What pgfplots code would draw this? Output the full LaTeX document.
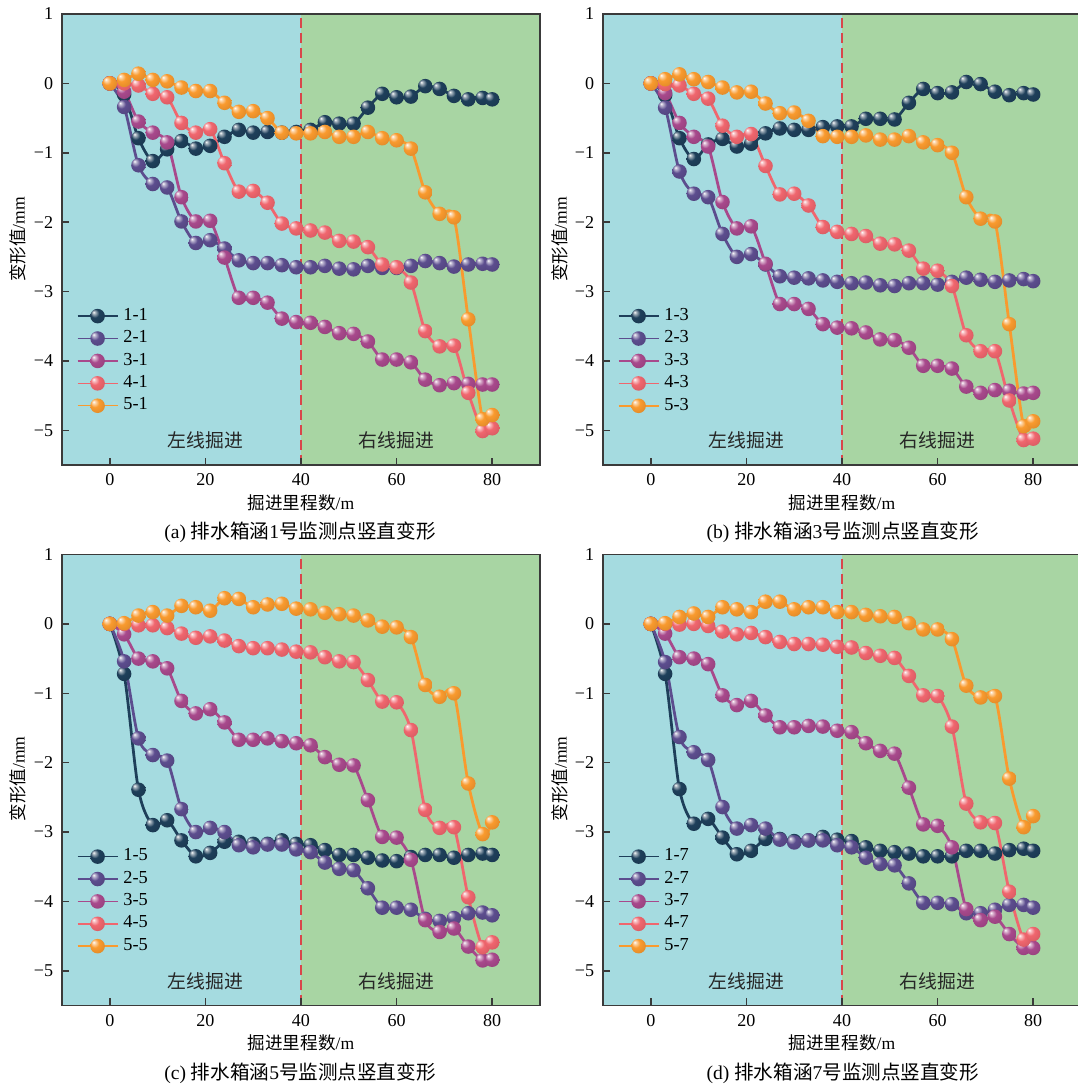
\documentclass[border=0pt]{standalone}
\usepackage{fontspec}
\setmainfont{Liberation Serif}
\newfontfamily\cjk{Noto Sans CJK SC}
\usepackage{pgfplots}
\usepackage{pgfplotstable}
\pgfplotsset{compat=1.18}
\usetikzlibrary{plotmarks}

\definecolor{bgleft}{HTML}{A5DBE0}
\definecolor{bgright}{HTML}{A8D5A3}
\definecolor{sA}{HTML}{1E3F5A}
\definecolor{sB}{HTML}{5C4D8E}
\definecolor{sC}{HTML}{A8498C}
\definecolor{sD}{HTML}{F0666E}
\definecolor{sE}{HTML}{F99A2E}
\definecolor{divline}{HTML}{D9464A}
\definecolor{frame}{HTML}{3A3A3A}

% shaded ball marks, one per series colour
\newcommand\mkball[1]{%
  \pgfdeclareradialshading{sh#1}{\pgfpoint{-14bp}{14bp}}{color(0bp)=(white);
    color(5bp)=(#1!40!white); color(15bp)=(#1); color(36bp)=(#1!88!black);
    color(50bp)=(#1!72!black)}%
  \pgfdeclareplotmark{ball#1}{\pgfpathcircle{\pgfpointorigin}{\pgfplotmarksize}%
    \pgfshadepath{sh#1}{0}\pgfusepath{}}}
\mkball{sA}\mkball{sB}\mkball{sC}\mkball{sD}\mkball{sE}

% columns: x, then series 1..5 of each panel
\pgfplotstableread{
x a b c d e
0 0 0 0 0 0
3 -0.16 -0.34 -0.12 0.00 0.05
6 -0.79 -1.18 -0.55 -0.03 0.14
9 -1.12 -1.45 -0.71 -0.15 0.05
12 -0.95 -1.50 -0.85 -0.20 0.03
15 -0.83 -1.99 -1.64 -0.57 -0.06
18 -0.94 -2.30 -1.99 -0.71 -0.11
21 -0.90 -2.26 -1.98 -0.66 -0.11
24 -0.77 -2.38 -2.51 -1.15 -0.28
27 -0.67 -2.55 -3.09 -1.56 -0.41
30 -0.71 -2.59 -3.09 -1.55 -0.40
33 -0.70 -2.59 -3.16 -1.72 -0.50
36 -0.71 -2.62 -3.39 -2.02 -0.71
39 -0.70 -2.65 -3.44 -2.09 -0.72
42 -0.67 -2.65 -3.45 -2.12 -0.72
45 -0.56 -2.63 -3.51 -2.15 -0.70
48 -0.58 -2.67 -3.60 -2.27 -0.77
51 -0.58 -2.68 -3.61 -2.28 -0.77
54 -0.35 -2.63 -3.72 -2.36 -0.70
57 -0.15 -2.66 -3.98 -2.61 -0.79
60 -0.20 -2.66 -3.98 -2.65 -0.82
63 -0.19 -2.63 -4.02 -2.87 -0.94
66 -0.04 -2.56 -4.27 -3.57 -1.57
69 -0.08 -2.59 -4.35 -3.79 -1.88
72 -0.18 -2.64 -4.32 -3.78 -1.93
75 -0.23 -2.61 -4.33 -4.46 -3.40
78 -0.21 -2.60 -4.34 -5.01 -4.84
80 -0.23 -2.61 -4.34 -4.97 -4.78
}\tabA

\pgfplotstableread{
x a b c d e
0 0 0 0 0 0
3 -0.17 -0.35 -0.14 -0.01 0.06
6 -0.79 -1.27 -0.57 -0.03 0.13
9 -1.09 -1.59 -0.77 -0.15 0.06
12 -0.88 -1.64 -0.91 -0.22 0.02
15 -0.80 -2.17 -1.71 -0.61 -0.06
18 -0.91 -2.50 -2.09 -0.77 -0.13
21 -0.87 -2.46 -2.06 -0.73 -0.12
24 -0.72 -2.61 -2.60 -1.19 -0.29
27 -0.65 -2.78 -3.18 -1.60 -0.43
30 -0.67 -2.80 -3.18 -1.59 -0.42
33 -0.67 -2.81 -3.25 -1.76 -0.54
36 -0.63 -2.84 -3.47 -2.07 -0.76
39 -0.62 -2.86 -3.52 -2.14 -0.77
42 -0.62 -2.88 -3.53 -2.17 -0.77
45 -0.51 -2.87 -3.59 -2.20 -0.75
48 -0.51 -2.91 -3.69 -2.31 -0.81
51 -0.52 -2.92 -3.70 -2.32 -0.81
54 -0.28 -2.88 -3.81 -2.41 -0.76
57 -0.08 -2.88 -4.07 -2.67 -0.85
60 -0.14 -2.90 -4.07 -2.70 -0.89
63 -0.13 -2.86 -4.11 -2.92 -1.00
66 0.02 -2.80 -4.37 -3.63 -1.64
69 -0.01 -2.83 -4.46 -3.86 -1.95
72 -0.12 -2.86 -4.42 -3.86 -1.99
75 -0.17 -2.84 -4.43 -4.57 -3.47
78 -0.14 -2.82 -4.47 -5.14 -4.94
80 -0.16 -2.85 -4.46 -5.12 -4.87
}\tabB

\pgfplotstableread{
x a b c d e
0 0 0 0 0 0
3 -0.72 -0.54 -0.15 0.00 0.01
6 -2.39 -1.65 -0.50 -0.02 0.12
9 -2.90 -1.89 -0.54 -0.02 0.17
12 -2.83 -1.97 -0.64 -0.06 0.12
15 -3.12 -2.67 -1.11 -0.14 0.26
18 -3.35 -3.00 -1.29 -0.20 0.24
21 -3.30 -2.94 -1.23 -0.18 0.19
24 -3.14 -3.00 -1.42 -0.24 0.37
27 -3.14 -3.19 -1.67 -0.32 0.36
30 -3.17 -3.22 -1.67 -0.35 0.24
33 -3.17 -3.18 -1.65 -0.35 0.28
36 -3.12 -3.18 -1.69 -0.37 0.29
39 -3.17 -3.25 -1.72 -0.40 0.22
42 -3.19 -3.29 -1.75 -0.41 0.21
45 -3.26 -3.44 -1.92 -0.48 0.16
48 -3.33 -3.53 -2.03 -0.54 0.14
51 -3.33 -3.55 -2.04 -0.55 0.12
54 -3.37 -3.81 -2.54 -0.81 0.05
57 -3.41 -4.09 -3.07 -1.12 -0.04
60 -3.42 -4.09 -3.08 -1.13 -0.05
63 -3.36 -4.12 -3.40 -1.53 -0.19
66 -3.33 -4.25 -4.27 -2.68 -0.88
69 -3.33 -4.28 -4.44 -2.94 -1.05
72 -3.37 -4.24 -4.39 -2.93 -1.00
75 -3.33 -4.17 -4.65 -3.94 -2.30
78 -3.31 -4.16 -4.85 -4.66 -3.03
80 -3.33 -4.20 -4.84 -4.59 -2.86
}\tabC

\pgfplotstableread{
x a b c d e
0 0 0 0 0 0
3 -0.72 -0.55 -0.14 0.00 0.01
6 -2.38 -1.63 -0.48 -0.01 0.10
9 -2.88 -1.85 -0.50 0.00 0.15
12 -2.81 -1.96 -0.58 -0.03 0.10
15 -3.08 -2.64 -1.03 -0.11 0.24
18 -3.32 -2.95 -1.17 -0.15 0.21
21 -3.27 -2.90 -1.11 -0.13 0.17
24 -3.10 -2.95 -1.32 -0.19 0.32
27 -3.10 -3.11 -1.49 -0.26 0.32
30 -3.13 -3.15 -1.49 -0.29 0.21
33 -3.12 -3.12 -1.47 -0.29 0.24
36 -3.07 -3.12 -1.48 -0.30 0.24
39 -3.11 -3.19 -1.54 -0.33 0.17
42 -3.13 -3.22 -1.56 -0.34 0.17
45 -3.22 -3.37 -1.72 -0.42 0.13
48 -3.27 -3.46 -1.83 -0.46 0.11
51 -3.29 -3.48 -1.87 -0.49 0.10
54 -3.31 -3.74 -2.36 -0.75 0.01
57 -3.35 -4.02 -2.89 -1.03 -0.08
60 -3.35 -4.02 -2.91 -1.04 -0.08
63 -3.35 -4.04 -3.22 -1.48 -0.22
66 -3.27 -4.17 -4.11 -2.59 -0.89
69 -3.27 -4.17 -4.27 -2.86 -1.06
72 -3.31 -4.12 -4.22 -2.87 -1.04
75 -3.26 -4.05 -4.47 -3.86 -2.23
78 -3.24 -4.05 -4.67 -4.55 -2.93
80 -3.27 -4.09 -4.67 -4.47 -2.77
}\tabD

\pgfplotsset{
  panel/.style={
    scale only axis, width=6.692cm, height=6.314cm,
    anchor=south west,
    xmin=-10, xmax=90, ymin=-5.5, ymax=1,
    xtick={0,20,40,60,80}, xticklabels={0,20,40,60,80},
    ytick={-5,-4,-3,-2,-1,0,1},
    yticklabels={−5,−4,−3,−2,−1,0,1},
    tick pos=left, tick align=inside, major tick length=0.1cm,
    axis on top,
    axis line style={frame, line width=0.6pt},
    every tick/.style={frame, line width=0.6pt},
    tick label style={font=\fontsize{7.2}{8}\selectfont},
    legend cell align=left,
    legend style={draw=none, fill=none, at={(0.03,0.36)}, anchor=north west,
      inner sep=0pt, row sep=-1.4pt, font=\fontsize{7.3}{8}\selectfont},
    legend image code/.code={%
      \draw[##1, line width=0.6pt, mark repeat=2, mark phase=2]
        plot coordinates {(0cm,0cm) (0.28cm,0cm) (0.56cm,0cm)};},
  },
  ser/.style={smooth, line width=1.1pt, color=#1, mark=ball#1, mark size=2.9pt},
}

\newcommand\panel[4]{%
\begin{axis}[panel, at={(#3,#4)}]
\fill[bgleft] (axis cs:-10,-5.5) rectangle (axis cs:40,1);
\fill[bgright] (axis cs:40,-5.5) rectangle (axis cs:90,1);
\draw[divline, line width=0.8pt, dash pattern=on 4pt off 2pt] (axis cs:40,-5.5) -- (axis cs:40,1);
\addplot[ser=sA] table[x=x, y=a] {#1}; \addlegendentry{1-#2}
\addplot[ser=sB] table[x=x, y=b] {#1}; \addlegendentry{2-#2}
\addplot[ser=sC] table[x=x, y=c] {#1}; \addlegendentry{3-#2}
\addplot[ser=sD] table[x=x, y=d] {#1}; \addlegendentry{4-#2}
\addplot[ser=sE] table[x=x, y=e] {#1}; \addlegendentry{5-#2}
\node[font=\fontsize{7.5}{9}\cjk, color=black!85] at (axis cs:20,-5.15) {左线掘进};
\node[font=\fontsize{7.5}{9}\cjk, color=black!85] at (axis cs:60,-5.15) {右线掘进};
\end{axis}}

\newcommand\ylab[2]{\node[rotate=90, font=\fontsize{7}{8}\selectfont] at (#1,#2) {{\cjk 变形值}/mm};}
\newcommand\xlab[2]{\node[font=\fontsize{7}{8}\selectfont] at (#1,#2) {{\cjk 掘进里程数}/m};}
\newcommand\capt[3]{\node[font=\fontsize{7.8}{9}\selectfont] at (#1,#2) {#3};}

\begin{document}
\begin{tikzpicture}
\useasboundingbox (0,0) rectangle (15.092,-15.204);
\panel{\tabA}{1}{0.868cm}{-6.51cm}
\panel{\tabB}{3}{8.442cm}{-6.51cm}
\panel{\tabC}{5}{0.868cm}{-14.077cm}
\panel{\tabD}{7}{8.442cm}{-14.077cm}
\ylab{0.252}{-3.353}
\ylab{7.84}{-3.353}
\ylab{0.252}{-10.906}
\ylab{7.84}{-10.906}
\xlab{4.214}{-7.042}
\xlab{11.788}{-7.042}
\xlab{4.214}{-14.602}
\xlab{11.788}{-14.602}
\capt{4.2}{-7.448}{(a) {\cjk 排水箱涵}1{\cjk 号监测点竖直变形}}
\capt{11.8}{-7.448}{(b) {\cjk 排水箱涵}3{\cjk 号监测点竖直变形}}
\capt{4.2}{-15.022}{(c) {\cjk 排水箱涵}5{\cjk 号监测点竖直变形}}
\capt{11.8}{-15.022}{(d) {\cjk 排水箱涵}7{\cjk 号监测点竖直变形}}
\end{tikzpicture}
\end{document}
